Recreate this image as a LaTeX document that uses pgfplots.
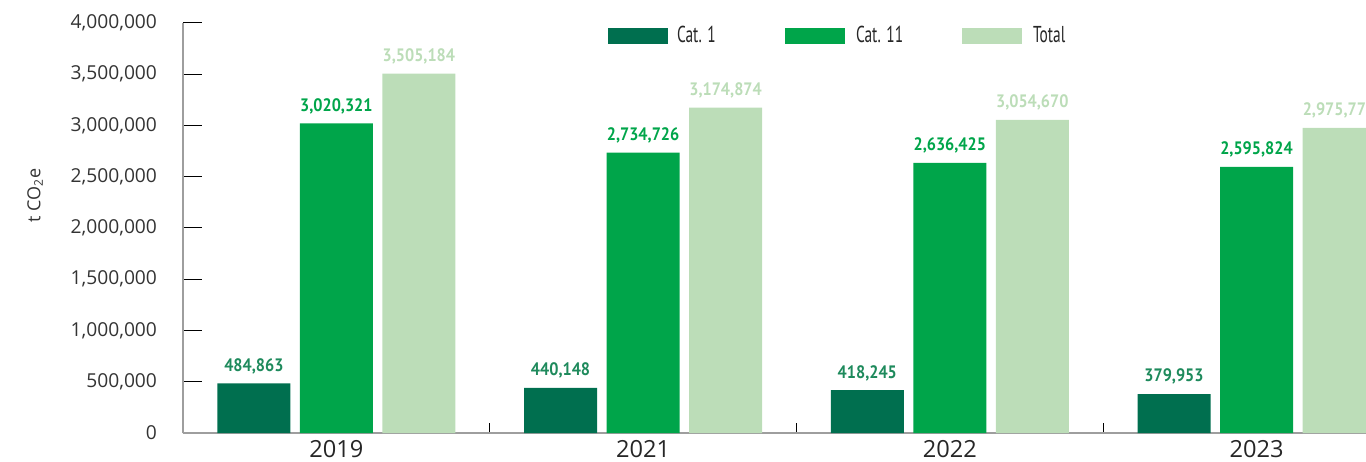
\documentclass[border=0pt]{standalone}
\usepackage{fontspec}
\usepackage{pgfplots}
\usepackage{pgfplotstable}
\pgfplotsset{compat=1.18}
\setmainfont{Open Sans}
\newfontfamily\labfont[FakeStretch=0.9]{PT Sans}
\newfontfamily\legfont[FakeStretch=0.67]{PT Sans}
\definecolor{c1}{HTML}{006F4F}
\definecolor{c2}{HTML}{00A54A}
\definecolor{c3}{HTML}{BCDDB8}
\definecolor{l1}{HTML}{1E8A5C}
\definecolor{tk}{HTML}{333333}
\pgfplotstableread{
x y lab
0 484863 484,863
1 440148 440,148
2 418245 418,245
3 379953 379,953
}\catone
\pgfplotstableread{
x y lab
0 3020321 3,020,321
1 2734726 2,734,726
2 2636425 2,636,425
3 2595824 2,595,824
}\catele
\pgfplotstableread{
x y lab
0 3505184 3,505,184
1 3174874 3,174,874
2 3054670 3,054,670
3 2975777 2,975,777
}\total
\begin{document}
\begin{tikzpicture}
\useasboundingbox (-91.5pt,-14pt) rectangle (591.5pt,216.5pt);
\clip (-91.5pt,-14pt) rectangle (591.5pt,216.5pt);
\begin{axis}[
  at={(0,0)}, anchor=south west,
  scale only axis, width=591.5pt, height=205pt,
  xmin=-0.5, xmax=3.357, ymin=0, ymax=4000000,
  axis lines=left,
  axis line style={-, draw=black!38, line width=1pt},
  tick align=inside,
  major tick length=9.5pt,
  minor tick length=5pt,
  tick style={draw=black, line width=0.5pt},
  xtick={0,1,2,3},
  xticklabels={2019,2021,2022,2023},
  minor xtick={0.5,1.5,2.5},
  ytick={0,500000,1000000,1500000,2000000,2500000,3000000,3500000,4000000},
  scaled y ticks=false,
  /pgf/number format/fixed,
  /pgf/number format/precision=0,
  /pgf/number format/1000 sep={,},
  /pgf/number format/assume math mode=true,
  y tick label style={font=\fontsize{9.6}{11}\selectfont, text=tk, xshift=-9.5pt},
  x tick label style={font=\fontsize{11.8}{14}\selectfont, text=black!85, yshift=0pt},
  ylabel={t CO\textsubscript{2}e},
  ylabel style={at={(axis description cs:-0.1251,0.58)}, anchor=center, font=\fontsize{9}{11}\selectfont, text=tk},
  nodes near coords={\pgfplotspointmeta},
  point meta=explicit symbolic,
  every node near coord/.append style={anchor=south, inner sep=0pt, yshift=4.5pt, font=\labfont\bfseries\fontsize{9}{11}\selectfont},
  legend columns=3,
  legend cell align=left,
  legend style={at={(axis description cs:0.3593,0.968)}, anchor=west, draw=none, fill=none, inner sep=0pt, outer sep=0pt, column sep=0pt, nodes={inner sep=0pt, outer sep=0pt}, font=\legfont\fontsize{11.5}{13}\selectfont, text=black!85},
  every axis plot post/.append style={legend image code/.code={\fill (0pt,-4pt) rectangle (30pt,4pt);}},
]
\addplot[ybar, bar width=36.5pt, bar shift=-41.25pt, fill=c1, draw=none, every node near coord/.append style={text=l1, xshift=-41.25pt}] table[x=x, y=y, meta=lab] {\catone};
\addlegendentry{\makebox[58.5pt][l]{\hspace{4.5pt}Cat. 1}}
\addplot[ybar, bar width=36.5pt, bar shift=0pt, fill=c2, draw=none, every node near coord/.append style={text=c2}] table[x=x, y=y, meta=lab] {\catele};
\addlegendentry{\makebox[58.5pt][l]{\hspace{5.5pt}Cat. 11}}
\addplot[ybar, bar width=36.5pt, bar shift=41.25pt, fill=c3, draw=none, every node near coord/.append style={text=c3, xshift=41.25pt}] table[x=x, y=y, meta=lab] {\total};
\addlegendentry{\makebox[58.5pt][l]{\hspace{5.5pt}Total}}
\end{axis}
\end{tikzpicture}
\end{document}
